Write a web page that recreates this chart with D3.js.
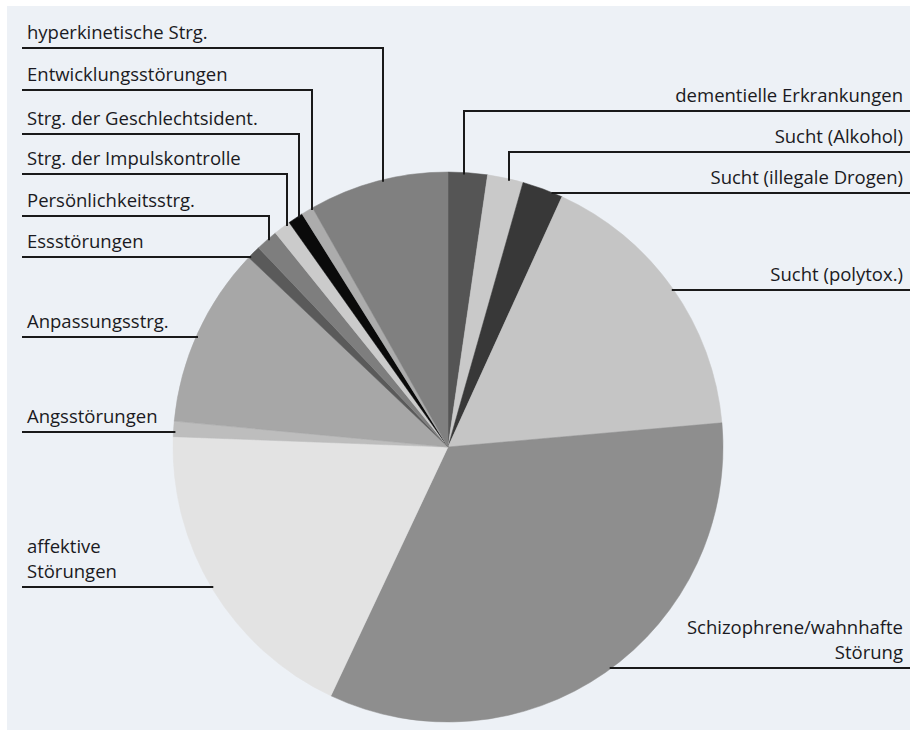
<!DOCTYPE html>
<html>
<head>
<meta charset="utf-8">
<script src="https://cdn.jsdelivr.net/npm/d3@7"></script>
<style>
  html, body { margin: 0; padding: 0; background: #ffffff; }
  svg { display: block; }
</style>
</head>
<body>
<svg id="chart" width="910" height="735"></svg>
<script>
// ---- Data (clockwise from 12 o'clock) ----
const categories = [
  "dementielle Erkrankungen",
  "Sucht (Alkohol)",
  "Sucht (illegale Drogen)",
  "Sucht (polytox.)",
  "Schizophrene/wahnhafte Störung",
  "affektive Störungen",
  "Angsstörungen",
  "Anpassungsstrg.",
  "Essstörungen",
  "Persönlichkeitsstrg.",
  "Strg. der Impulskontrolle",
  "Strg. der Geschlechtsident.",
  "Entwicklungsstörungen",
  "hyperkinetische Strg."
];
const values = [2.3, 2.1, 2.4, 16.8, 33.4, 18.6, 0.9, 10.6, 0.8, 1.3, 1.0, 0.9, 0.7, 8.2];
const labelLines = [
  ["dementielle Erkrankungen"],
  ["Sucht (Alkohol)"],
  ["Sucht (illegale Drogen)"],
  ["Sucht (polytox.)"],
  ["Schizophrene/wahnhafte", "Störung"],
  ["affektive", "Störungen"],
  ["Angsstörungen"],
  ["Anpassungsstrg."],
  ["Essstörungen"],
  ["Persönlichkeitsstrg."],
  ["Strg. der Impulskontrolle"],
  ["Strg. der Geschlechtsident."],
  ["Entwicklungsstörungen"],
  ["hyperkinetische Strg."]
];

// ---- Styles / layout ----
const colors = ["#555555", "#c9c9c9", "#383838", "#c5c5c5", "#8e8e8e", "#e3e3e3", "#bdbdbd",
                "#a7a7a7", "#5a5a5a", "#7e7e7e", "#cbcbcb", "#0a0a0a", "#acacac", "#808080"];
// side, y of leader line, x of elbow (null = line runs straight to the rim)
const labelLayout = [
  {side: "right", lineY: 111, elbowX: 464},
  {side: "right", lineY: 152, elbowX: 509},
  {side: "right", lineY: 193, elbowX: null},
  {side: "right", lineY: 290, elbowX: null},
  {side: "right", lineY: 668, elbowX: null},
  {side: "left",  lineY: 587, elbowX: null},
  {side: "left",  lineY: 432, elbowX: null},
  {side: "left",  lineY: 337, elbowX: null},
  {side: "left",  lineY: 257, elbowX: null},
  {side: "left",  lineY: 216, elbowX: 269},
  {side: "left",  lineY: 174, elbowX: 287},
  {side: "left",  lineY: 134, elbowX: 299},
  {side: "left",  lineY: 90,  elbowX: 312},
  {side: "left",  lineY: 48,  elbowX: 383}
];

const W = 910, H = 735;
const cx = 448, cy = 447, R = 275;
const svg = d3.select("#chart");

// frame + background
svg.append("rect").attr("x", 0).attr("y", 0).attr("width", W).attr("height", H).attr("fill", "#ffffff");
svg.append("rect").attr("x", 7).attr("y", 6).attr("width", W - 7).attr("height", 724).attr("fill", "#edf1f6");

const data = categories.map((c, i) => ({name: c, value: values[i], color: colors[i], lines: labelLines[i], layout: labelLayout[i]}));

const pie = d3.pie().sort(null).value(d => d.value);
const arc = d3.arc().innerRadius(0).outerRadius(R);
const arcs = pie(data);

const g = svg.append("g").attr("transform", `translate(${cx},${cy})`);
g.selectAll("path").data(arcs).join("path")
  .attr("d", arc)
  .attr("fill", d => d.data.color)
  .attr("stroke", d => d.data.color)
  .attr("stroke-width", 0.5);

// leader lines and labels
const leaders = svg.append("g");
const fontFamily = "'Open Sans', 'Noto Sans', sans-serif";
const lineGap = 25.5;
arcs.forEach(a => {
  const L = a.data.layout;
  const y = L.lineY;
  let pts;
  if (L.elbowX !== null) {
    const dx = L.elbowX - cx;
    const rimY = cy - Math.sqrt(R * R - dx * dx) + 2;
    const startX = L.side === "left" ? 22 : W;
    pts = [[startX, y], [L.elbowX, y], [L.elbowX, rimY]];
  } else {
    const dy = y - cy;
    const half = Math.sqrt(R * R - dy * dy);
    if (L.side === "left") pts = [[22, y], [cx - half + 2, y]];
    else pts = [[W, y], [cx + half - 2, y]];
  }
  leaders.append("path")
    .attr("d", d3.line()(pts))
    .attr("fill", "none")
    .attr("stroke", "#1a1a1a")
    .attr("stroke-width", 2);

  const t = leaders.append("text")
    .attr("font-family", fontFamily)
    .attr("font-size", 18.5)
    .attr("font-weight", 500)
    .attr("fill", "#1a1a22")
    .attr("text-anchor", L.side === "left" ? "start" : "end");
  const n = a.data.lines.length;
  a.data.lines.forEach((ln, i) => {
    t.append("tspan")
      .attr("x", L.side === "left" ? 27 : 903)
      .attr("y", y - 9 - (n - 1 - i) * lineGap)
      .text(ln);
  });
});
</script>
</body>
</html>
